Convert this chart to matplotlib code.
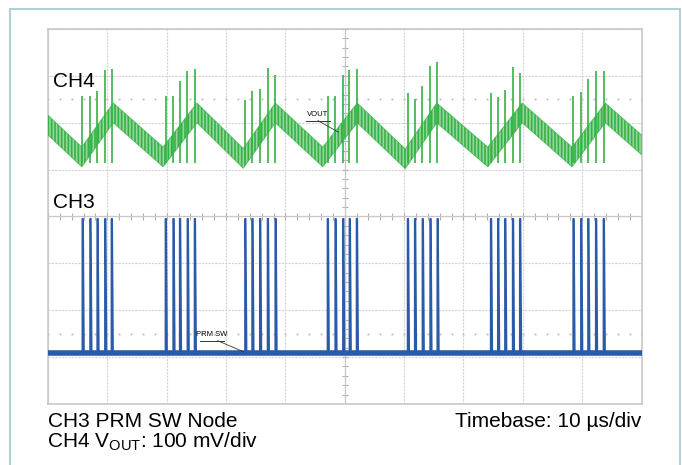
import matplotlib
matplotlib.use("Agg")
import matplotlib.pyplot as plt
from matplotlib.lines import Line2D
import numpy as np

plt.rcParams['font.family'] = ['Liberation Sans', 'DejaVu Sans']
plt.rcParams['mathtext.fontset'] = 'custom'
plt.rcParams['mathtext.rm'] = 'Liberation Sans'
plt.rcParams['hatch.linewidth'] = 1.2

# ---- data (time in µs, amplitude in divisions) ----
ch4_t = [0, 5.7, 11.0, 19.4, 25.1, 32.9, 38.3, 46.3, 52.1, 60.2, 65.5, 74.1, 79.9, 88.3, 93.9, 100]
ch4_v = [1.95, 1.27, 2.21, 1.27, 2.21, 1.24, 2.21, 1.27, 2.21, 1.23, 2.21, 1.27, 2.21, 1.27, 2.21, 1.53]
ch4_ripple = 0.21

pulse_t = [5.8, 7.1, 8.3, 9.6, 10.7,
           19.8, 21.1, 22.2, 23.5, 24.7,
           33.2, 34.4, 35.7, 37.0, 38.3,
           47.1, 48.4, 49.7, 50.8, 52.0,
           60.6, 61.8, 63.1, 64.4, 65.6,
           74.6, 75.8, 77.0, 78.3, 79.5,
           88.5, 89.8, 91.0, 92.3, 93.6]
spike_top = [2.57, 2.57, 2.68, 3.13, 3.15,
             2.57, 2.57, 2.89, 3.10, 3.15,
             2.49, 2.68, 2.72, 3.17, 3.02,
             2.57, 2.57, 3.02, 3.13, 3.15,
             2.64, 2.51, 2.78, 3.21, 3.30,
             2.64, 2.55, 2.70, 3.19, 3.06,
             2.57, 2.66, 2.93, 3.10, 3.10]
ch3_base = -2.91
ch3_top = -0.05

GREEN = '#35b246'
BLUE = '#2a5ba8'

fig = plt.figure(figsize=(6.82, 4.65), dpi=100)
fig.patch.set_facecolor('white')

# outer frame
fc = '#a9cdd6'
fig.add_artist(Line2D([9.5/682, 9.5/682], [-0.01, 1-9.5/465], transform=fig.transFigure, color=fc, lw=1.3))
fig.add_artist(Line2D([9.5/682, 680/682], [1-9.5/465, 1-9.5/465], transform=fig.transFigure, color=fc, lw=1.3))
fig.add_artist(Line2D([680/682, 680/682], [-0.01, 1-9.5/465], transform=fig.transFigure, color=fc, lw=1.3))

ax = fig.add_axes([48/682, 1-404/465, (641.5-48)/682, (404-29)/465])
ax.set_xlim(0, 100)
ax.set_ylim(-4, 4)
ax.set_xticks(np.arange(0, 101, 10))
ax.set_yticks(np.arange(-4, 5, 1))
ax.tick_params(length=0, labelbottom=False, labelleft=False)
for s in ax.spines.values():
    s.set_color('#c4c4c4')
    s.set_linewidth(1.1)
ax.grid(True, color='#d4d4d4', lw=0.8, ls=(0, (2, 1)))
ax.set_axisbelow(True)

# center cross minor ticks
minor = np.arange(-4, 4.01, 0.2)
ax.hlines(minor, 49.5, 50.5, color='#b0b0b0', lw=0.8, zorder=1)
minor_x = np.arange(0, 100.01, 2)
ax.vlines(minor_x, -0.08, 0.08, color='#b0b0b0', lw=0.8, zorder=1)
ax.axvline(50, color='#c8c8c8', lw=0.9, zorder=1)
ax.axhline(0, color='#c8c8c8', lw=0.9, zorder=1)
# dotted marker rows
ax.plot(minor_x, [2.5]*len(minor_x), ls='none', marker='.', ms=1.2, color='#c4c4c4', zorder=1)
ax.plot(minor_x, [-2.5]*len(minor_x), ls='none', marker='.', ms=1.2, color='#c4c4c4', zorder=1)

# CH4 band
c = np.array(ch4_v)
ax.fill_between(ch4_t, c - ch4_ripple, c + ch4_ripple, facecolor='#96d79d',
                edgecolor=GREEN, hatch='|||||', linewidth=0, zorder=3)
ax.plot(ch4_t, c + ch4_ripple, color=GREEN, lw=0.7, alpha=0.7, zorder=3)
ax.plot(ch4_t, c - ch4_ripple, color=GREEN, lw=0.7, alpha=0.7, zorder=3)
ax.vlines(pulse_t, 1.15, spike_top, color=GREEN, lw=1.2, zorder=4)

# CH3 trace
xs, ys = [0], [ch3_base]
for t in pulse_t:
    xs += [t, t, t + 0.1, t + 0.25]
    ys += [ch3_base, ch3_top, ch3_top, ch3_base]
xs.append(100)
ys.append(ch3_base)
ax.axhline(ch3_base, color=BLUE, lw=4.0, zorder=3)
ax.plot(xs, ys, color=BLUE, lw=1.3, zorder=4)

# labels
ax.text(0.84, 2.87, 'CH4', fontsize=15, va='center', ha='left', zorder=6)
ax.text(0.84, 0.29, 'CH3', fontsize=15, va='center', ha='left', zorder=6)

ax.text(45.5, 2.1, 'VOUT', fontsize=5.5, ha='center', va='bottom', zorder=6)
ax.plot([43.5, 47.5], [2.045, 2.045], color='#333333', lw=0.7, zorder=6)
ax.plot([45.5, 48.9], [2.045, 1.80], color='#333333', lw=0.6, zorder=6)

ax.text(27.6, -2.60, 'PRM SW', fontsize=5.5, ha='center', va='bottom', zorder=6)
ax.plot([25.6, 29.7], [-2.65, -2.65], color='#333333', lw=0.7, zorder=6)
ax.plot([28.6, 33.0], [-2.65, -2.89], color='#333333', lw=0.6, zorder=6)

fig.text(48/682, 1-421/465, 'CH3 PRM SW Node', fontsize=15, va='center', ha='left')
fig.text(47/682, 1-442/465, r'CH4 V$_{\mathrm{OUT}}$: 100 mV/div', fontsize=15, va='center', ha='left')
fig.text(641/682, 1-421/465, 'Timebase: 10 µs/div', fontsize=15, va='center', ha='right')

fig.savefig('out.png', dpi=100, facecolor='white')
